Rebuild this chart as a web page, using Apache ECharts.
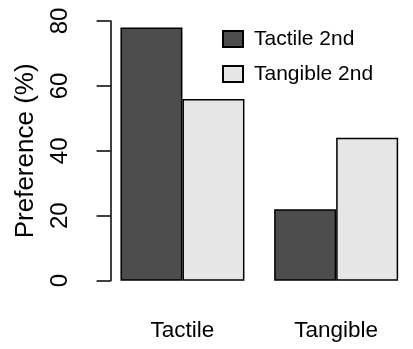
<!DOCTYPE html>
<html>
<head>
<meta charset="utf-8">
<script src="https://cdn.jsdelivr.net/npm/echarts@6/dist/echarts.min.js"></script>
<style>html,body{margin:0;padding:0;background:#fff}#c{width:413px;height:349px}</style>
</head>
<body>
<div id="c"></div>
<script>
var categories = ['Tactile', 'Tangible'];
var seriesNames = ['Tactile 2nd', 'Tangible 2nd'];
var tactile2nd = [78, 22];
var tangible2nd = [56, 44];
var yTicks = [0, 20, 40, 60, 80];

var FONT = 'Liberation Sans, Arial, sans-serif';
var chart = echarts.init(document.getElementById('c'), null, {renderer: 'canvas'});
chart.setOption({
  animation: false,
  backgroundColor: '#ffffff',
  textStyle: {fontFamily: FONT},
  grid: {left: 105.6, top: 21, width: 310.8, height: 259.7, containLabel: false},
  legend: {
    orient: 'vertical',
    left: 222,
    top: 28.5,
    padding: 0,
    itemWidth: 20,
    itemHeight: 16,
    itemGap: 14,
    textStyle: {fontSize: 21, color: '#000', fontFamily: FONT, padding: [0, 0, 0, 6]},
    data: seriesNames.map(function (n) { return {name: n, icon: 'rect'}; })
  },
  xAxis: {
    type: 'category',
    data: categories,
    axisLine: {show: false},
    axisTick: {show: false},
    axisLabel: {fontSize: 22.5, color: '#000', margin: 38.5, fontFamily: FONT}
  },
  yAxis: {
    type: 'value',
    min: yTicks[0],
    max: yTicks[yTicks.length - 1],
    interval: 20,
    offset: -5,
    splitLine: {show: false},
    axisLine: {show: true, lineStyle: {color: '#000', width: 1.5}},
    axisTick: {show: true, inside: false, length: 14, lineStyle: {color: '#000', width: 1.5}},
    axisLabel: {fontSize: 24, color: '#000', rotate: 90, margin: 38, fontFamily: FONT},
    name: 'Preference (%)',
    nameLocation: 'middle',
    nameRotate: 90,
    nameGap: 72,
    nameTextStyle: {fontSize: 26, color: '#000', fontFamily: FONT}
  },
  series: [
    {
      name: seriesNames[0], type: 'bar', data: tactile2nd,
      barWidth: 62, barGap: '0%',
      itemStyle: {color: '#4D4D4D', borderColor: '#000', borderWidth: 1.5}
    },
    {
      name: seriesNames[1], type: 'bar', data: tangible2nd,
      barWidth: 62, barGap: '0%',
      itemStyle: {color: '#E6E6E6', borderColor: '#000', borderWidth: 1.5}
    }
  ]
});
</script>
</body>
</html>
